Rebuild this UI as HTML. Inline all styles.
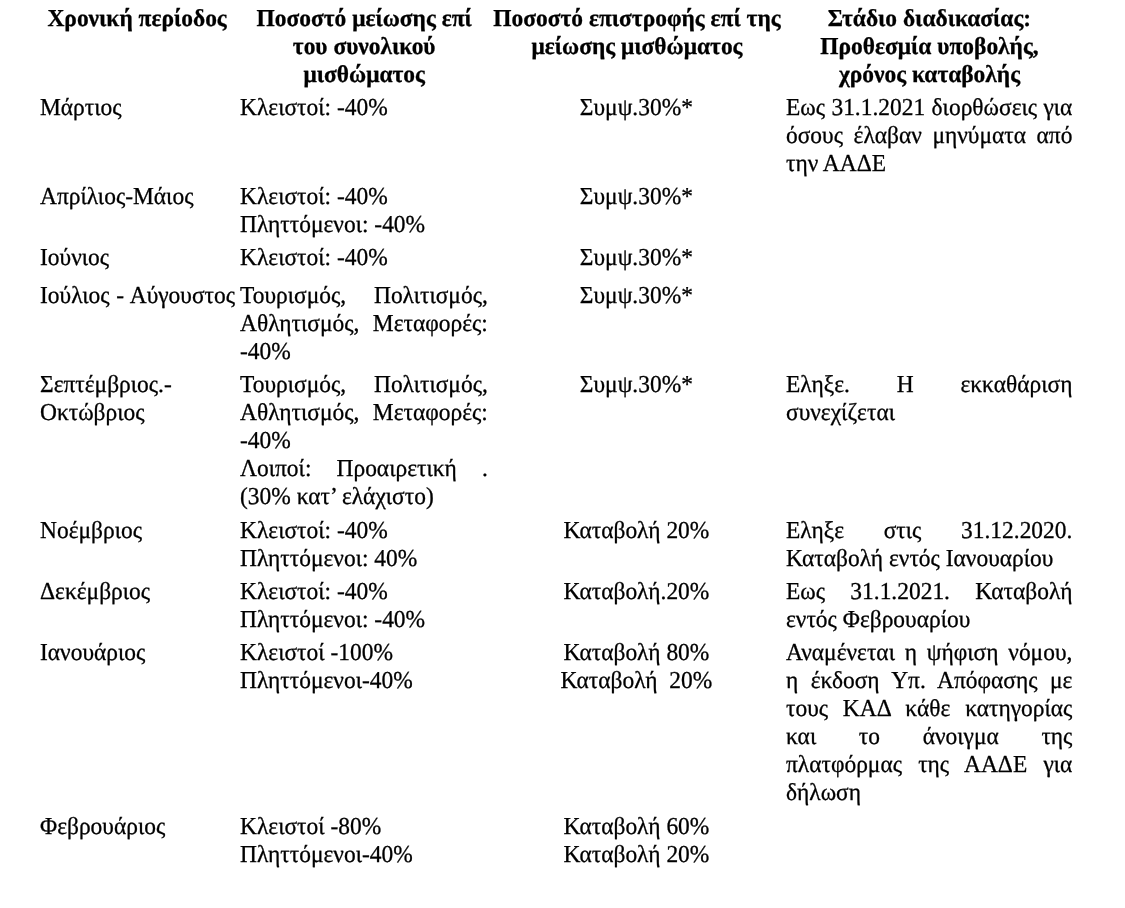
<!DOCTYPE html>
<html lang="el"><head><meta charset="utf-8"><title>Πίνακας μισθωμάτων</title>
<style>
html,body{margin:0;padding:0;background:#fff;}
body{position:relative;width:1125px;height:908px;overflow:hidden;font-family:"Liberation Serif",serif;font-size:24.27033740426413px;line-height:28.080px;color:#000;text-rendering:geometricPrecision;-webkit-text-stroke:0.3px #000;}
.row{position:absolute;left:0;width:1164.36px;height:0;transform:scaleX(0.9662);transform-origin:0 0;}
.row div{position:absolute;top:0;white-space:normal;}
.h div{font-weight:bold;text-align:center;}
.c1{left:41.40px;width:204.93px;white-space:nowrap !important;}
.c2{left:248.40px;width:256.47px;text-align:justify;}
.c3{left:507.56px;width:302.21px;text-align:center;}
.c4{left:813.50px;width:296.42px;text-align:justify;}
.h .c1{left:39.43px;width:204.93px;}
.h .c2{left:247.57px;width:258.75px;}
.h .c3{left:508.18px;width:302.21px;}
.h .c4{left:812.46px;width:299.11px;}

</style></head><body>
<main role="table" aria-label="Μειώσεις μισθωμάτων">
<div class="row h" role="row" style="top:5.00px">
<div class="c1" role="columnheader">Χρονική περίοδος</div>
<div class="c2" role="columnheader">Ποσοστό μείωσης επί<br>του συνολικού<br>μισθώματος</div>
<div class="c3" role="columnheader">Ποσοστό επιστροφής επί της<br>μείωσης μισθώματος</div>
<div class="c4" role="columnheader">Στάδιο διαδικασίας:<br>Προθεσμία υποβολής,<br>χρόνος καταβολής</div>
</div>
<div class="row" role="row" style="top:93.80px">
<div class="c1" role="cell">Μάρτιος</div>
<div class="c2" role="cell">Κλειστοί: -40%</div>
<div class="c3" role="cell">Συμψ.30%*</div>
<div class="c4" role="cell">Εως 31.1.2021 διορθώσεις για όσους έλαβαν μηνύματα από την ΑΑΔΕ</div>
</div>
<div class="row" role="row" style="top:183.20px">
<div class="c1" role="cell">Απρίλιος-Μάιος</div>
<div class="c2" role="cell">Κλειστοί: -40%<br>Πληττόμενοι: -40%</div>
<div class="c3" role="cell">Συμψ.30%*</div>
</div>
<div class="row" role="row" style="top:244.00px">
<div class="c1" role="cell">Ιούνιος</div>
<div class="c2" role="cell">Κλειστοί: -40%</div>
<div class="c3" role="cell">Συμψ.30%*</div>
</div>
<div class="row" role="row" style="top:281.70px">
<div class="c1" role="cell"><span style="word-spacing:1px">Ιούλιος - Αύγουστος</span></div>
<div class="c2" role="cell">Τουρισμός, Πολιτισμός, Αθλητισμός, Μεταφορές: -40%</div>
<div class="c3" role="cell">Συμψ.30%*</div>
</div>
<div class="row" role="row" style="top:370.80px">
<div class="c1" role="cell">Σεπτέμβριος.-<br>Οκτώβριος</div>
<div class="c2" role="cell">Τουρισμός, Πολιτισμός, Αθλητισμός, Μεταφορές: -40%<br>Λοιποί: Προαιρετική . (30% κατ’ ελάχιστο)</div>
<div class="c3" role="cell">Συμψ.30%*</div>
<div class="c4" role="cell">Εληξε. Η εκκαθάριση συνεχίζεται</div>
</div>
<div class="row" role="row" style="top:516.90px">
<div class="c1" role="cell">Νοέμβριος</div>
<div class="c2" role="cell">Κλειστοί: -40%<br>Πληττόμενοι: 40%</div>
<div class="c3" role="cell">Καταβολή 20%</div>
<div class="c4" role="cell">Εληξε στις 31.12.2020. Καταβολή εντός Ιανουαρίου</div>
</div>
<div class="row" role="row" style="top:577.60px">
<div class="c1" role="cell">Δεκέμβριος</div>
<div class="c2" role="cell">Κλειστοί: -40%<br>Πληττόμενοι: -40%</div>
<div class="c3" role="cell">Καταβολή.20%</div>
<div class="c4" role="cell">Εως 31.1.2021. Καταβολή εντός Φεβρουαρίου</div>
</div>
<div class="row" role="row" style="top:638.90px">
<div class="c1" role="cell">Ιανουάριος</div>
<div class="c2" role="cell">Κλειστοί -100%<br>Πληττόμενοι-40%</div>
<div class="c3" role="cell">Καταβολή 80%<br>Καταβολή&nbsp; 20%</div>
<div class="c4" role="cell">Αναμένεται η ψήφιση νόμου, η έκδοση Υπ. Απόφασης με τους ΚΑΔ κάθε κατηγορίας και το άνοιγμα της πλατφόρμας της ΑΑΔΕ για δήλωση</div>
</div>
<div class="row" role="row" style="top:812.60px">
<div class="c1" role="cell">Φεβρουάριος</div>
<div class="c2" role="cell">Κλειστοί -80%<br>Πληττόμενοι-40%</div>
<div class="c3" role="cell">Καταβολή 60%<br>Καταβολή 20%</div>
</div>
</main>
</body></html>
